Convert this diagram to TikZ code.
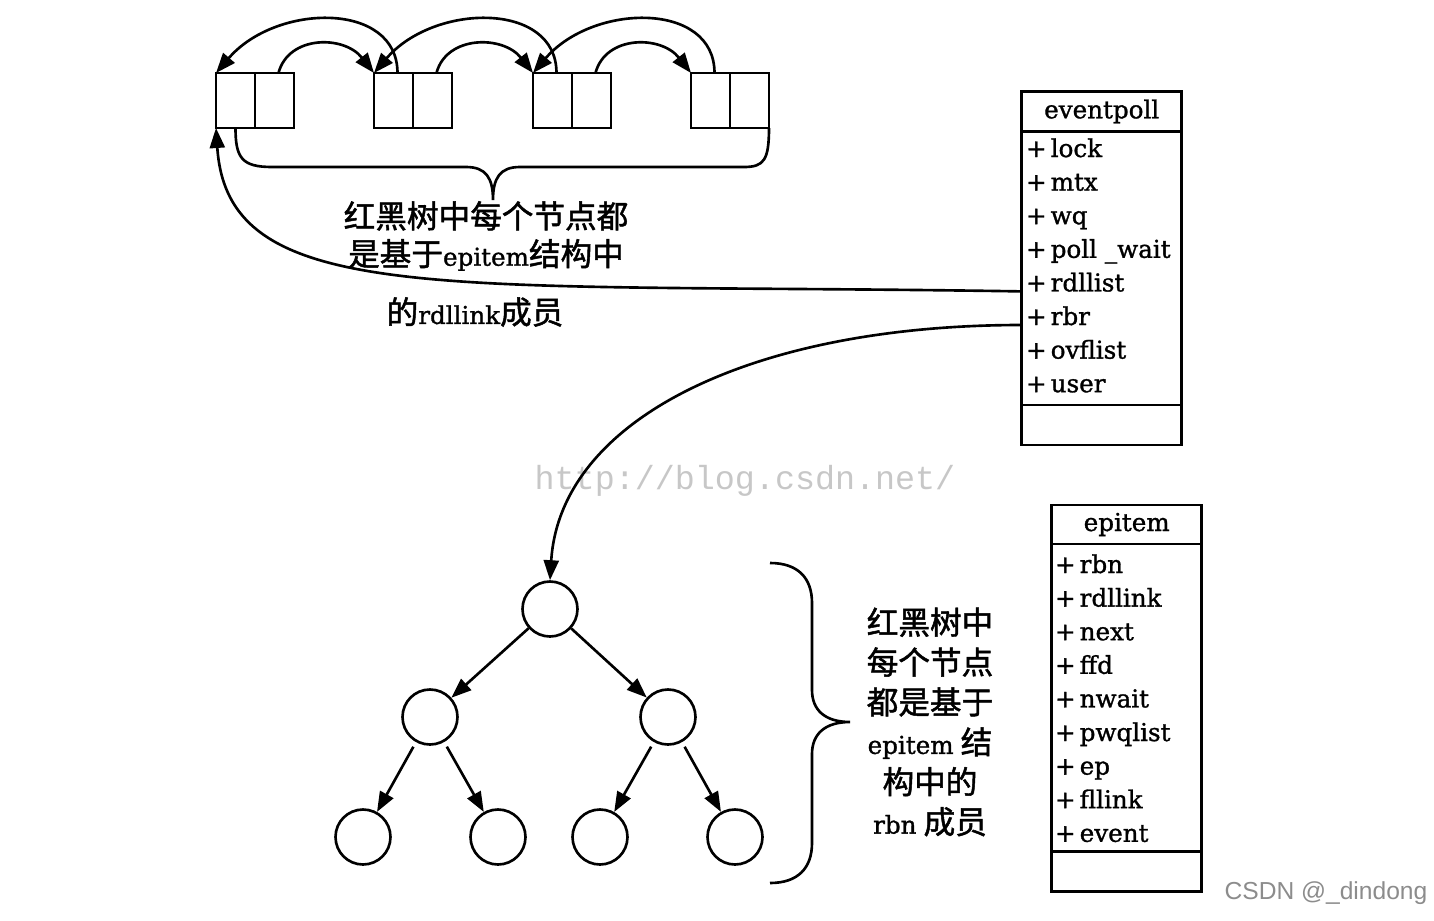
\documentclass[tikz,border=0pt]{standalone}
\usepackage{fontspec}
\setmainfont{DejaVu Serif}[FakeBold=1.2]
\newfontfamily\cjk{Noto Sans CJK SC}[FakeBold=1.5]
\newfontfamily\wmfont{Liberation Mono}
\newfontfamily\sigfont{Liberation Sans}
\usetikzlibrary{arrows.meta,calc,positioning}

\newcommand{\lat}[1]{{\rmfamily\fontsize{14}{16}\selectfont #1}}

\begin{document}
\begin{tikzpicture}[
  x=0.02cm, y=-0.02cm,
  >={Triangle[length=0.4cm,width=0.3cm]},
  line width=1.5pt,
  node distance=0pt,
  cellbox/.style={draw, minimum width=0.78cm, minimum height=1.1cm,
                  inner sep=0pt, outer sep=0pt},
  umlhead/.style={draw, minimum height=0.8cm, inner sep=0pt, outer sep=0pt,
                  font=\fontsize{14}{16}\selectfont},
  umlpart/.style={draw, inner sep=0pt, outer sep=0pt},
  field/.style={anchor=base west, inner sep=0pt, font=\fontsize{14}{16}\selectfont},
  rbnode/.style={draw, circle, minimum size=1.1cm, inner sep=0pt},
  cjknote/.style={align=center, inner sep=0pt, font=\cjk\fontsize{18}{21.5}\selectfont},
  wmark/.style={text=black!22, inner sep=0pt, font=\wmfont\fontsize{19}{20}\selectfont},
  sig/.style={text=black!45, inner sep=0pt, font=\sigfont\fontsize{14}{16}\selectfont}
]
  \useasboundingbox (0,0) rectangle (1434,920);

  % watermark behind everything
  \node[wmark] (wm) at (745,481) {http://blog.csdn.net/};
  \node[sig] (sig) at (1326,893) {CSDN @\_dindong};

  % rdllink list
  \foreach \i/\x in {1/216,2/374,3/533,4/691} {
    \node[cellbox] (l\i) at (\x+19.5,100.5) {};
    \node[cellbox, right=of l\i] (r\i) {};
  }
  \foreach \i [evaluate=\i as \j using int(\i+1)] in {1,2,3} {
    \draw[->] ($(r\i.north)+(4,0)$) .. controls +(10,-38) and +(-30,-38) .. (l\j.north west);
    \draw[->] ($(l\j.north)+(4,0)$) .. controls +(0,-72) and +(60,-70) .. (l\i.north west);
  }
  \draw (l1.south) .. controls +(0,30) and +(-30,0) .. (272,167) -- (466,167)
    .. controls +(20,0) and +(0,-22) .. (493,200)
    .. controls +(0,-22) and +(-20,0) .. (520,167) -- (744,167)
    .. controls +(20,0) and +(0,32) .. (r4.south east);
  \node[cjknote] (listnote) at (486,236)
    {红黑树中每个节点都\\是基于\lat{epitem}结构中};
  \node[cjknote] (listnote2) at (475,312) {的\lat{rdllink}成员};

  % eventpoll
  \node[umlhead, minimum width=3.2cm] (evhead) at (1101.7,111.5) {eventpoll};
  \node[umlpart, minimum width=3.2cm, minimum height=5.47cm, below=of evhead] (evbody) {};
  \node[umlpart, minimum width=3.2cm, minimum height=0.8cm, below=of evbody] (evfoot) {};
  \foreach \f [count=\i] in {lock,mtx,wq,poll \_wait,rdllist,rbr,ovflist,user}
    \node[field] (ev-\i) at ($(evbody.north west)+(3,{25.5+33.6*(\i-1)})$) {+\,\f};

  % epitem
  \node[umlhead, minimum width=3.0cm, minimum height=0.78cm] (ithead) at (1126.7,524.5) {epitem};
  \node[umlpart, minimum width=3.0cm, minimum height=6.15cm, below=of ithead] (itbody) {};
  \node[umlpart, minimum width=3.0cm, minimum height=0.8cm, below=of itbody] (itfoot) {};
  \foreach \f [count=\i] in {rbn,rdllink,next,ffd,nwait,pwqlist,ep,fllink,event}
    \node[field] (it-\i) at ($(itbody.north west)+(2,{29+33.6*(\i-1)})$) {+\,\f};

  % red-black tree
  \node[rbnode] (root) at (550,609) {};
  \node[rbnode] (n1) at (430,717) {};
  \node[rbnode] (n2) at (668,717) {};
  \node[rbnode] (n3) at (363,837) {};
  \node[rbnode] (n4) at (498,837) {};
  \node[rbnode] (n5) at (600,837) {};
  \node[rbnode] (n6) at (735,837) {};
  \draw[->] (root) -- (n1);
  \draw[->] (root) -- (n2);
  \draw[->, shorten <=3pt] (n1) -- (n3);
  \draw[->, shorten <=3pt] (n1) -- (n4);
  \draw[->, shorten <=3pt] (n2) -- (n5);
  \draw[->, shorten <=3pt] (n2) -- (n6);

  \draw (770,563) .. controls (798,563) and (812,578) .. (812,603) -- (812,690)
    .. controls (812,710) and (825,722) .. (850,722)
    .. controls (825,722) and (812,734) .. (812,754) -- (812,843)
    .. controls (812,868) and (798,883) .. (770,883);
  \node[cjknote, font=\cjk\fontsize{18}{22.7}\selectfont] (treenote) at (930,722)
    {红黑树中\\每个节点\\都是基于\\\lat{epitem} 结\\构中的\\\lat{rbn} 成员};

  % links from eventpoll
  \draw[->] (evbody.west |- ev-5.base) .. controls (450,282) and (228,310) .. (l1.south west);
  \draw[->] (evbody.west |- ev-6.base) .. controls (750,325) and (560,420) .. (root.north);
\end{tikzpicture}
\end{document}
